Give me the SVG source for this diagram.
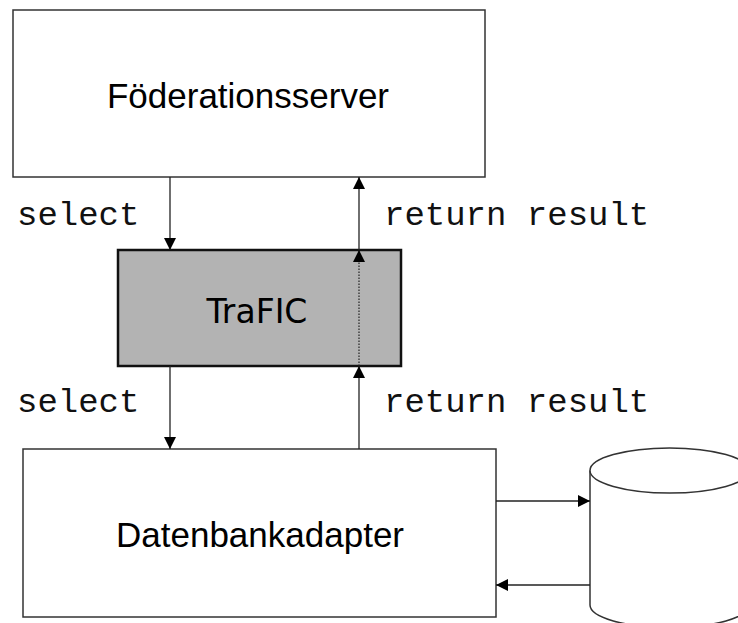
<svg xmlns="http://www.w3.org/2000/svg" width="738" height="623" viewBox="0 0 738 623">
<defs>
<marker id="ah" viewBox="0 0 12 12" refX="12" refY="6" markerWidth="12" markerHeight="12" markerUnits="userSpaceOnUse" orient="auto">
<path d="M0,0 L12,6 L0,12 Z" fill="#000"/>
</marker>
<style>
.box{fill:#fff;stroke:#333;stroke-width:1.5}
.gray{fill:#b3b3b3;stroke:#111;stroke-width:2.5}
.lbl{font-family:"Liberation Sans",Arial,sans-serif;font-size:35px;fill:#000;text-anchor:middle}
.vlbl{font-family:"DejaVu Sans",Verdana,sans-serif;font-size:33px;fill:#000;text-anchor:middle}
.mono{font-family:"Liberation Mono","Courier New",monospace;font-size:34px;fill:#111}
.con{stroke:#222;stroke-width:1.3;fill:none}
.dot{stroke:#222;stroke-width:1.2;fill:none;stroke-dasharray:1.5 1.5}
</style>
</defs>
<rect width="738" height="623" fill="#fff"/>
<g id="foederationsserver">
<rect class="box" x="13" y="10" width="472" height="167"/>
<text class="lbl" x="248" y="108">Föderationsserver</text>
</g>
<g id="trafic">
<rect class="gray" x="118" y="250" width="283" height="116"/>
<text class="vlbl" x="257" y="323">TraFIC</text>
</g>
<g id="datenbankadapter">
<rect class="box" x="23" y="449" width="473" height="168"/>
<text class="lbl" x="260" y="547">Datenbankadapter</text>
</g>
<g id="datenbank">
<path class="box" d="M590,470.5 L590,605 A79.6,22.5 0 0 0 749.2,605 L749.2,470.5"/>
<ellipse class="box" cx="669.6" cy="470.5" rx="79.6" ry="22.5"/>
</g>
<g id="connectors">
<line class="con" x1="170" y1="177" x2="170" y2="250" marker-end="url(#ah)"/>
<line class="con" x1="359" y1="250" x2="359" y2="177" marker-end="url(#ah)"/>
<line class="dot" x1="359" y1="366" x2="359" y2="250" marker-end="url(#ah)"/>
<line class="con" x1="170" y1="366" x2="170" y2="449" marker-end="url(#ah)"/>
<line class="con" x1="359" y1="449" x2="359" y2="366" marker-end="url(#ah)"/>
<line class="con" x1="496" y1="501" x2="590" y2="501" marker-end="url(#ah)"/>
<line class="con" x1="590" y1="585" x2="496" y2="585" marker-end="url(#ah)"/>
<text class="mono" x="17" y="225">select</text>
<text class="mono" x="384" y="225">return result</text>
<text class="mono" x="17" y="412">select</text>
<text class="mono" x="384" y="412">return result</text>
</g>
</svg>
